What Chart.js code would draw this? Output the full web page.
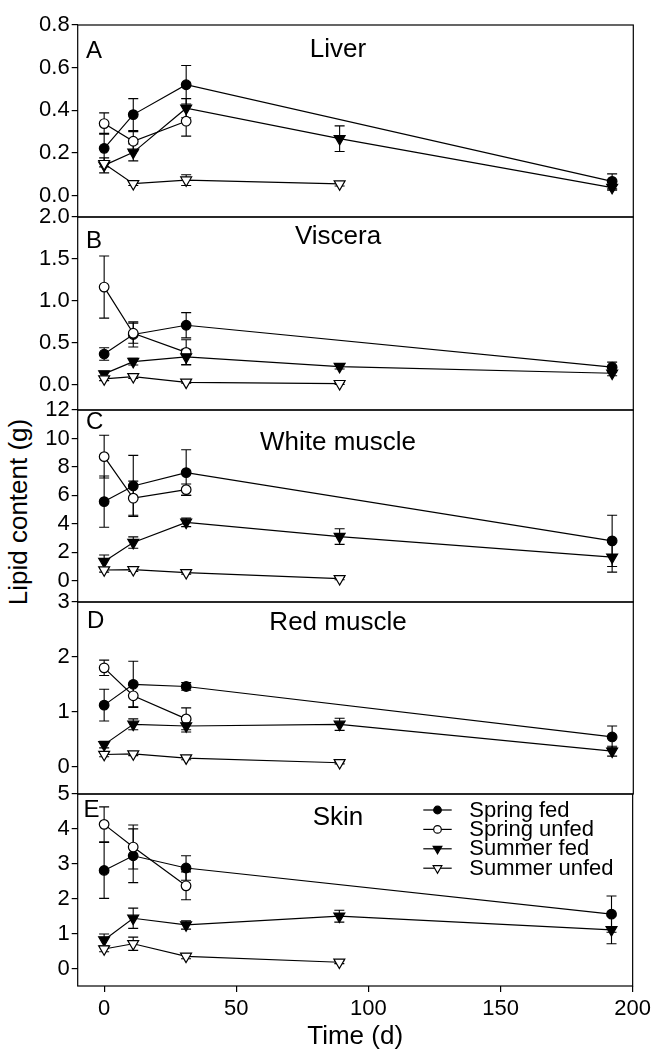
<!DOCTYPE html>
<html><head><meta charset="utf-8">
<script src="https://cdn.jsdelivr.net/npm/chart.js@4.4.1/dist/chart.umd.min.js"></script>
<style>
html,body{margin:0;padding:0;background:#fff;}
#wrap{position:relative;width:655px;height:1051px;overflow:hidden;background:#fff;}
#wrap canvas{position:absolute;left:0;}
#ylabel{position:absolute;left:17.5px;top:512px;font-family:"Liberation Sans",Arial,sans-serif;font-size:26px;line-height:1;color:#000;white-space:nowrap;transform:translate(-50%,-50%) rotate(-90deg);}
</style></head><body>
<div id="wrap"><div id="ylabel">Lipid content (g)</div></div>
<script>
// ---------- data ----------
const seriesNames = ['Spring fed', 'Spring unfed', 'Summer fed', 'Summer unfed'];
const springFedDays   = [0, 11, 31, 192];
const springUnfedDays = [0, 11, 31];
const summerFedDays   = [0, 11, 31, 89, 192];
const summerUnfedDays = [0, 11, 31, 89];

const panelNames   = ['Liver', 'Viscera', 'White muscle', 'Red muscle', 'Skin'];
const panelLetters = ['A', 'B', 'C', 'D', 'E'];

const xTickLabels = ['0', '50', '100', '150', '200'];
const xRange = [-10, 200];

const liverTickLabels   = ['0.0', '0.2', '0.4', '0.6', '0.8'];
const visceraTickLabels = ['0.0', '0.5', '1.0', '1.5', '2.0'];
const whiteTickLabels   = ['0', '2', '4', '6', '8', '10', '12'];
const redTickLabels     = ['0', '1', '2', '3'];
const skinTickLabels    = ['0', '1', '2', '3', '4', '5'];

const liverRange   = [-0.1, 0.8];
const visceraRange = [-0.3, 2.0];
const whiteRange   = [-1.5, 12];
const redRange     = [-0.5, 3];
const skinRange    = [-0.5, 5];

// Liver
const liverSpringFed      = [0.222, 0.38, 0.52, 0.067];
const liverSpringFedErr   = [0.07, 0.075, 0.09, 0.035];
const liverSpringUnfed    = [0.338, 0.255, 0.349];
const liverSpringUnfedErr = [0.05, 0.045, 0.07];
const liverSummerFed      = [0.142, 0.203, 0.41, 0.267, 0.038];
const liverSummerFedErr   = [0.035, 0.04, 0.045, 0.06, 0.012];
const liverSummerUnfed    = [0.15, 0.056, 0.073, 0.055];
const liverSummerUnfedErr = [0.015, 0.008, 0.025, 0.01];
// Viscera
const visceraSpringFed      = [0.367, 0.6, 0.71, 0.21];
const visceraSpringFedErr   = [0.075, 0.15, 0.15, 0.06];
const visceraSpringUnfed    = [1.165, 0.615, 0.387];
const visceraSpringUnfedErr = [0.37, 0.12, 0.15];
const visceraSummerFed      = [0.13, 0.277, 0.333, 0.218, 0.138];
const visceraSummerFedErr   = [0.03, 0.04, 0.09, 0.03, 0.03];
const visceraSummerUnfed    = [0.07, 0.097, 0.03, 0.014];
const visceraSummerUnfedErr = [0.02, 0.02, 0.01, 0.01];
// White muscle
const whiteSpringFed      = [5.56, 6.66, 7.6, 2.8];
const whiteSpringFedErr   = [1.8, 2.15, 1.6, 1.8];
const whiteSpringUnfed    = [8.72, 5.8, 6.4];
const whiteSpringUnfedErr = [1.5, 1.2, 0.4];
const whiteSummerFed      = [1.35, 2.68, 4.1, 3.1, 1.65];
const whiteSummerFedErr   = [0.45, 0.4, 0.3, 0.55, 1.05];
const whiteSummerUnfed    = [0.75, 0.77, 0.56, 0.14];
const whiteSummerUnfedErr = [0.15, 0.12, 0.1, 0.08];
// Red muscle
const redSpringFed      = [1.12, 1.5, 1.46, 0.54];
const redSpringFedErr   = [0.29, 0.42, 0.07, 0.2];
const redSpringUnfed    = [1.8, 1.29, 0.87];
const redSpringUnfedErr = [0.14, 0.2, 0.2];
const redSummerFed      = [0.4, 0.77, 0.74, 0.77, 0.28];
const redSummerFedErr   = [0.06, 0.1, 0.11, 0.11, 0.09];
const redSummerUnfed    = [0.22, 0.23, 0.155, 0.07];
const redSummerUnfedErr = [0.04, 0.03, 0.03, 0.02];
// Skin
const skinSpringFed      = [2.81, 3.23, 2.88, 1.56];
const skinSpringFedErr   = [0.8, 0.77, 0.35, 0.52];
const skinSpringUnfed    = [4.13, 3.48, 2.37];
const skinSpringUnfedErr = [0.5, 0.63, 0.4];
const skinSummerFed      = [0.82, 1.44, 1.25, 1.5, 1.11];
const skinSummerFedErr   = [0.17, 0.29, 0.12, 0.17, 0.4];
const skinSummerUnfed    = [0.56, 0.71, 0.35, 0.18];
const skinSummerUnfedErr = [0.08, 0.19, 0.07, 0.04];

// ---------- assembly ----------
const seriesDays = [springFedDays, springUnfedDays, summerFedDays, summerUnfedDays];
const panelValues = [
  [[liverSpringFed, liverSpringFedErr], [liverSpringUnfed, liverSpringUnfedErr], [liverSummerFed, liverSummerFedErr], [liverSummerUnfed, liverSummerUnfedErr]],
  [[visceraSpringFed, visceraSpringFedErr], [visceraSpringUnfed, visceraSpringUnfedErr], [visceraSummerFed, visceraSummerFedErr], [visceraSummerUnfed, visceraSummerUnfedErr]],
  [[whiteSpringFed, whiteSpringFedErr], [whiteSpringUnfed, whiteSpringUnfedErr], [whiteSummerFed, whiteSummerFedErr], [whiteSummerUnfed, whiteSummerUnfedErr]],
  [[redSpringFed, redSpringFedErr], [redSpringUnfed, redSpringUnfedErr], [redSummerFed, redSummerFedErr], [redSummerUnfed, redSummerUnfedErr]],
  [[skinSpringFed, skinSpringFedErr], [skinSpringUnfed, skinSpringUnfedErr], [skinSummerFed, skinSummerFedErr], [skinSummerUnfed, skinSummerUnfedErr]]
];
const panelTickLabels = [liverTickLabels, visceraTickLabels, whiteTickLabels, redTickLabels, skinTickLabels];
const panelRanges = [liverRange, visceraRange, whiteRange, redRange, skinRange];

// ---------- layout / style ----------
const FONT = '"Liberation Sans", Arial, sans-serif';
const W = 655, H = 1051;
const PLOT_LEFT = 77.7, PLOT_RIGHT = 633.3;
const panelTops = [25, 217, 410, 602, 794];
const panelBottoms = [217, 410, 602, 794, 986];
const PAD = 18;
const titleDY = [25, 19.7, 33.3, 21.3, 23.7];
const letterDY = [26, 24.7, 12.5, 19.7, 16];
const letterX = [86, 86, 86, 87, 83.5];
const TITLE_X = 338;
const seriesStyle = [
  {shape: 'circle', fill: '#000', r: 4.8, lr: 3.8},
  {shape: 'circle', fill: '#fff', r: 4.8, lr: 3.8},
  {shape: 'triangle', fill: '#000', r: 6.3, lr: 5},
  {shape: 'triangle', fill: '#fff', r: 6.3, lr: 5}
];

function drawMarker(ctx, shape, x, y, r, fill) {
  ctx.beginPath();
  if (shape === 'circle') {
    ctx.arc(x, y, r, 0, Math.PI * 2);
  } else {
    const s = Math.sin(Math.PI / 3) * r;
    ctx.moveTo(x, y + r);
    ctx.lineTo(x - s, y - r / 2);
    ctx.lineTo(x + s, y - r / 2);
    ctx.closePath();
  }
  ctx.fillStyle = fill;
  ctx.fill();
  ctx.lineWidth = 1.2;
  ctx.strokeStyle = '#000';
  ctx.stroke();
}

const wrap = document.getElementById('wrap');

panelNames.forEach((name, p) => {
  const isLast = p === panelNames.length - 1;
  const cTop = panelTops[p] - PAD;
  const cBottom = isLast ? H : panelBottoms[p] + PAD;
  const canvas = document.createElement('canvas');
  canvas.width = W;
  canvas.height = cBottom - cTop;
  canvas.style.top = cTop + 'px';
  canvas.style.width = W + 'px';
  canvas.style.height = (cBottom - cTop) + 'px';
  wrap.appendChild(canvas);

  const tickLabels = panelTickLabels[p];
  const tickValues = tickLabels.map(Number);

  const datasets = seriesNames.map((sn, k) => {
    const [vals, errs] = panelValues[p][k];
    const st = seriesStyle[k];
    return {
      label: sn,
      data: seriesDays[k].map((d, i) => ({x: d, y: vals[i]})),
      errors: errs,
      order: 4 - k,
      borderColor: '#000',
      borderWidth: 1.2,
      backgroundColor: st.fill,
      pointBackgroundColor: st.fill,
      pointBorderColor: '#000',
      pointBorderWidth: 1.2,
      pointStyle: st.shape,
      pointRotation: st.shape === 'triangle' ? 180 : 0,
      pointRadius: st.r,
      pointHoverRadius: st.r,
      tension: 0,
      fill: false,
      clip: false
    };
  });

  const errorBars = {
    id: 'errorBars' + p,
    beforeDatasetsDraw(chart) {
      const ctx = chart.ctx;
      const ys = chart.scales.y;
      ctx.save();
      ctx.strokeStyle = '#000';
      ctx.lineWidth = 1.1;
      chart.data.datasets.forEach((ds, i) => {
        const meta = chart.getDatasetMeta(i);
        ds.errors.forEach((e, j) => {
          const pt = meta.data[j];
          const v = ds.data[j].y;
          const yHi = ys.getPixelForValue(v + e);
          const yLo = ys.getPixelForValue(v - e);
          ctx.beginPath();
          ctx.moveTo(pt.x, yHi); ctx.lineTo(pt.x, yLo);
          ctx.moveTo(pt.x - 5, yHi); ctx.lineTo(pt.x + 5, yHi);
          ctx.moveTo(pt.x - 5, yLo); ctx.lineTo(pt.x + 5, yLo);
          ctx.stroke();
        });
      });
      ctx.restore();
    }
  };

  const decor = {
    id: 'decor' + p,
    afterDraw(chart) {
      const ctx = chart.ctx;
      const ca = chart.chartArea;
      ctx.save();
      ctx.strokeStyle = '#000';
      ctx.lineWidth = 1.2;
      ctx.strokeRect(ca.left, ca.top, ca.right - ca.left, ca.bottom - ca.top);
      ctx.fillStyle = '#000';
      ctx.textBaseline = 'middle';
      ctx.font = '24px ' + FONT;
      ctx.textAlign = 'left';
      ctx.fillText(panelLetters[p], letterX[p], ca.top + letterDY[p]);
      ctx.font = '26px ' + FONT;
      ctx.textAlign = 'center';
      ctx.fillText(name, TITLE_X, ca.top + titleDY[p]);
      if (isLast) {
        const rowY0 = ca.top + 16, rowDY = 19.4;
        chart.data.datasets.forEach((ds, k) => {
          const y = rowY0 + k * rowDY;
          const st = seriesStyle[k];
          ctx.beginPath();
          ctx.moveTo(423.3, y); ctx.lineTo(451.7, y);
          ctx.lineWidth = 1.2; ctx.strokeStyle = '#000';
          ctx.stroke();
          drawMarker(ctx, st.shape, 437.5, y, st.lr, st.fill);
          ctx.fillStyle = '#000';
          ctx.font = '22px ' + FONT;
          ctx.textAlign = 'left';
          ctx.textBaseline = 'middle';
          ctx.fillText(ds.label, 469.3, y + 0.5);
        });
      }
      ctx.restore();
    }
  };

  new Chart(canvas, {
    type: 'line',
    data: {datasets},
    options: {
      responsive: false,
      animation: false,
      devicePixelRatio: 1,
      events: [],
      layout: {padding: {left: 0, right: W - PLOT_RIGHT, top: PAD, bottom: isLast ? 0 : PAD}},
      plugins: {legend: {display: false}, tooltip: {enabled: false}},
      scales: {
        x: {
          type: 'linear',
          min: xRange[0], max: xRange[1],
          display: isLast,
          afterBuildTicks: s => { s.ticks = xTickLabels.map(l => ({value: Number(l)})); },
          afterFit: s => { if (isLast) s.height = H - panelBottoms[p]; },
          ticks: {
            autoSkip: false, maxRotation: 0, padding: 4, color: '#000',
            font: {family: FONT, size: 22},
            callback: v => xTickLabels.find(l => Number(l) === v)
          },
          grid: {drawOnChartArea: false, drawTicks: true, tickLength: 6, color: '#000', lineWidth: 1.2},
          border: {display: false},
          title: {display: true, text: 'Time (d)', color: '#000', padding: 0, font: {family: FONT, size: 26, lineHeight: 1.1}}
        },
        y: {
          type: 'linear',
          min: panelRanges[p][0], max: panelRanges[p][1],
          afterBuildTicks: s => { s.ticks = tickValues.map(v => ({value: v})); },
          afterFit: s => { s.width = PLOT_LEFT; },
          ticks: {
            autoSkip: false, padding: 2, color: '#000',
            font: {family: FONT, size: 22},
            callback: v => tickLabels[tickValues.indexOf(v)]
          },
          grid: {drawOnChartArea: false, drawTicks: true, tickLength: 6, color: '#000', lineWidth: 1.2},
          border: {display: false}
        }
      }
    },
    plugins: [errorBars, decor]
  });
});
</script>
</body></html>
